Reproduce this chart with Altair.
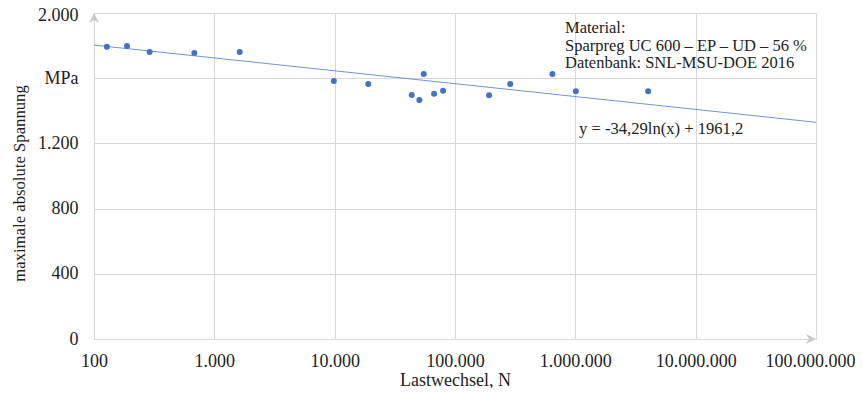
import altair as alt
import pandas as pd

# ---- data ----
cycles = [128, 188, 290, 682, 1625, 9840, 19000, 43700, 50600, 55000,
          67000, 79600, 192000, 288000, 645000, 1010000, 4030000]
stress = [1793, 1798, 1761, 1755, 1761, 1583, 1564, 1497, 1466, 1626,
          1505, 1523, 1495, 1564, 1626, 1520, 1520]
x_ticks = [100, 1000, 10000, 100000, 1000000, 10000000, 100000000]
y_ticks = [0, 400, 800, 1200, 1600, 2000]
note_lines = ["Material:", "Sparpreg UC 600 – EP – UD – 56 %", "Datenbank: SNL-MSU-DOE 2016"]
equation = "y = -34,29ln(x) + 1961,2"
trend_slope = -34.29      # coefficients of the trend line shown in the chart
trend_intercept = 1961.2
trend_extent = [100, 100000000]

FONT = "Liberation Serif"
BLUE = "#4472C4"
GRID = "#d9d9d9"
TXT = "#222222"
W, H = 722, 326

df = pd.DataFrame({"N": cycles, "S": stress})

xscale = alt.Scale(type="log", domain=[100, 100000000])
yscale = alt.Scale(domain=[0, 2000])

xaxis = alt.Axis(values=x_ticks, grid=True, gridColor=GRID, domainColor=GRID, ticks=False, tickSize=0,
                 labelExpr="replace(format(datum.value, ','), regexp(',', 'g'), '.')",
                 labelFont=FONT, labelFontSize=18, labelColor=TXT, labelPadding=27,
                 labelBaseline="alphabetic",
                 labelOffset={"condition": {"test": "datum.value == 100000000", "value": -6}, "value": 0},
                 title="Lastwechsel, N", titleFont=FONT, titleFontSize=18,
                 titleFontWeight="normal", titleColor=TXT, titleY=46, titleBaseline="alphabetic",
                 labelFlush=False, labelOverlap=False)
yaxis = alt.Axis(values=y_ticks, grid=True, gridColor=GRID, domainColor=GRID, ticks=False, tickSize=0,
                 labelExpr="datum.value == 1600 ? 'MPa' : replace(format(datum.value, ','), regexp(',', 'g'), '.')",
                 labelFont=FONT, labelFontSize=18, labelColor=TXT, labelPadding=16,
                 labelOffset={"condition": {"test": "datum.value == 2000", "value": 2}, "value": 0},
                 title="maximale absolute Spannung", titleFont=FONT, titleFontSize=16.7,
                 titleFontWeight="normal", titleColor=TXT, titleX=-70, titleY=H / 2 + 7,
                 titleAngle=-90, titleBaseline="alphabetic", titleAlign="center",
                 labelFlush=False, labelOverlap=False)

base = alt.Chart(df)

points = base.mark_circle(size=36, color=BLUE, opacity=1).encode(
    x=alt.X("N:Q", scale=xscale, axis=xaxis),
    y=alt.Y("S:Q", scale=yscale, axis=yaxis),
)

trend = alt.Chart(pd.DataFrame({"N": trend_extent})).transform_calculate(
    S=f"{trend_slope} * log(datum.N) + {trend_intercept}"
).mark_line(color=BLUE, strokeWidth=0.9, opacity=0.85).encode(
    x=alt.X("N:Q", scale=xscale), y=alt.Y("S:Q", scale=yscale)
)

note_layers = []
for i, line in enumerate(note_lines):
    note_layers.append(
        alt.Chart(pd.DataFrame({"t": [line]})).mark_text(
            align="left", baseline="alphabetic", font=FONT, fontSize=16.5, color=TXT
        ).encode(x=alt.value(471), y=alt.value(20 + 17.6 * i), text="t:N")
    )

eq = alt.Chart(pd.DataFrame({"t": [equation]})).mark_text(
    align="left", baseline="alphabetic", font=FONT, fontSize=16.6, color=TXT
).encode(x=alt.value(485), y=alt.value(121), text="t:N")

arrow_x = alt.Chart(pd.DataFrame({"a": [0]})).mark_point(
    shape="M0,0L-1,-0.5L-0.7,0L-1,0.5Z", filled=True, fill="#c8c8c8", strokeWidth=0, size=400, opacity=1
).encode(x=alt.value(W), y=alt.value(H))
arrow_y = alt.Chart(pd.DataFrame({"a": [0]})).mark_point(
    shape="M0,0L-0.5,1L0,0.7L0.5,1Z", filled=True, fill="#c8c8c8", strokeWidth=0, size=400, opacity=1
).encode(x=alt.value(0), y=alt.value(0))

chart = alt.layer(trend, points, *note_layers, eq, arrow_x, arrow_y).properties(
    width=W, height=H,
    autosize=alt.AutoSizeParams(type="none"),
    padding={"left": 86, "top": 5, "right": 39, "bottom": 49},
).configure_view(stroke=None).configure(background="white")

chart.save("out.html", embed_options={"renderer": "svg", "actions": False})
